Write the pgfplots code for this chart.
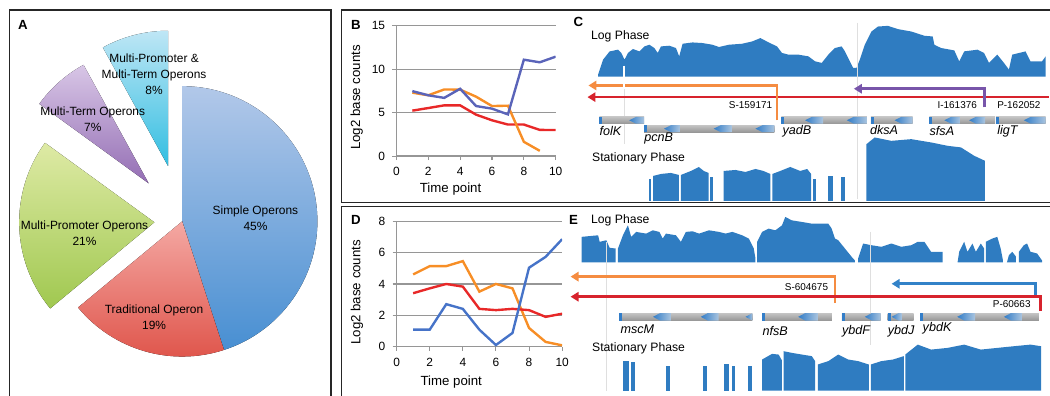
\documentclass[border=0pt]{standalone}
\usepackage{fontspec}
\setmainfont{Liberation Sans}
\usepackage{pgfplots}
\pgfplotsset{compat=1.18}
\usetikzlibrary{arrows.meta}
\definecolor{covblue}{RGB}{47,124,193}
\definecolor{chevblue}{RGB}{50,125,200}
\definecolor{geneT}{RGB}{195,195,195}
\definecolor{geneM}{RGB}{235,235,235}
\definecolor{geneB}{RGB}{150,150,150}
\definecolor{gridgray}{RGB}{150,150,150}
\definecolor{lnblueB}{RGB}{90,100,185}
\definecolor{lnblueD}{RGB}{70,115,200}
\definecolor{lnorange}{RGB}{247,142,38}
\definecolor{lnred}{RGB}{232,40,40}
\definecolor{arOrange}{RGB}{245,140,65}
\definecolor{arRed}{RGB}{215,35,45}
\definecolor{arPurple}{RGB}{120,85,170}
\definecolor{arBlue}{RGB}{50,130,200}
\definecolor{pbT}{RGB}{178,200,233}\definecolor{pbB}{RGB}{72,143,210}
\definecolor{prT}{RGB}{244,168,163}\definecolor{prB}{RGB}{222,80,70}
\definecolor{pgT}{RGB}{222,234,165}\definecolor{pgB}{RGB}{160,200,80}
\definecolor{ppT}{RGB}{216,198,230}\definecolor{ppB}{RGB}{148,110,180}
\definecolor{pcT}{RGB}{190,230,245}\definecolor{pcB}{RGB}{50,190,225}
\newcommand{\gene}[4]{%
  \addplot[draw=none, top color=geneT, middle color=geneM, bottom color=geneB] coordinates {(#1,#3) (#2,#3) (#2,#4) (#1,#4)} -- cycle;
  \pgfmathsetmacro\geneC{#1+3}%
  \addplot[draw=none, fill=chevblue] coordinates {(#1,#3) (\geneC,#3) (\geneC,#4) (#1,#4)} -- cycle;}
\newcommand{\chev}[4]{%
  \pgfmathsetmacro\chevM{(#2+#3)/2}\pgfmathsetmacro\chevB{#1+7}%
  \addplot[draw=none, left color=chevblue, right color=chevblue!35!geneM] coordinates {(#1,\chevM) (\chevB,#2) (#4,#2) (#4,#3) (\chevB,#3)} -- cycle;}
\begin{document}
\begin{tikzpicture}
\begin{scope}[x=0.75pt,y=0.75pt]
\useasboundingbox (0,0) rectangle (1050,398);
% frames
\draw[line width=1pt, black!85] (9.3,-5) -- (9.3,388) -- (333,388) -- (333,-5);
\draw[line width=1pt, black!85] (1056,388) -- (343.5,388) -- (343.5,194) -- (1056,194);
\draw[line width=1pt, black!85] (1056,190) -- (343.5,190) -- (343.5,-5);
% pie
\def\R{102pt}
\fill[top color=pbT, bottom color=pbB] (183.3,175.3) -- ++(90:\R) arc[start angle=90,end angle=-72,radius=\R] -- cycle;
\fill[top color=prT, bottom color=prB] (183.3,175.3) -- ++(-72:\R) arc[start angle=-72,end angle=-140.4,radius=\R] -- cycle;
\fill[top color=pgT, bottom color=pgB] ([shift={(-21pt,-0.7pt)}]183.3,175.3) -- ++(-140.4:\R) arc[start angle=-140.4,end angle=-216,radius=\R] -- cycle;
\fill[top color=ppT, bottom color=ppB] ([shift={(-25.3pt,28.7pt)}]183.3,175.3) -- ++(144:\R) arc[start angle=144,end angle=118.8,radius=\R] -- cycle;
\fill[top color=pcT, bottom color=pcB] ([shift={(-10.7pt,41.8pt)}]183.3,175.3) -- ++(118.8:\R) arc[start angle=118.8,end angle=90,radius=\R] -- cycle;
\begin{scope}[font=\fontsize{9}{12}\selectfont]
\node[align=center] at (257,178) {Simple Operons\\45\%};
\node[align=center] at (155,79) {Traditional Operon\\19\%};
\node[align=center] at (85,163.3) {Multi-Promoter Operons\\21\%};
\node[align=center] at (93.3,278.3) {Multi-Term Operons\\7\%};
\node[align=center] at (155,323) {Multi-Promoter \&\\Multi-Term Operons\\8\%};
\end{scope}
\node[font=\fontsize{10}{12}\selectfont\bfseries] at (23,373) {A};
\end{scope}
% ===== canvas axis for C and E tracks =====
\begin{axis}[at={(0pt,0pt)}, anchor=south west, width=787.5pt, height=298.5pt, scale only axis,
  xmin=0, xmax=1050, ymin=0, ymax=398, y dir=reverse, hide axis, clip=false]
% --- C log phase coverage
\addplot[draw=none, fill=covblue] coordinates {(601.7,77) (601.7,75) (606.7,60) (613.3,51.7) (621.7,50) (625,53.3) (628.3,60) (631.7,53.3) (636.7,49.3) (643.3,51.7) (648.3,46.7) (653.3,45) (658.3,48.3) (661.7,53.3) (665,46.7) (673.3,46) (680,48.3) (683.3,56.7) (686.7,44) (696.7,42.7) (706.7,43.3) (716.7,45) (723.3,47.3) (733.3,45) (746.7,44) (756.7,41.7) (765,38.3) (773.3,42.7) (781.7,46.7) (786.7,53.3) (793.3,55) (803.3,55) (813.3,56.7) (820,61.7) (826.7,63.3) (833.3,55) (840,48.3) (846.7,46.7) (850,51.7) (855,61.7) (858.3,68.3) (861.7,68.3) (865,60) (870,45) (876.7,31.7) (883.3,26.7) (893.3,26) (903.3,29.3) (916.7,31.7) (930,36) (938.3,36.7) (940,45) (946.7,48.3) (960,50.7) (965,61.7) (970,51.7) (983.3,50) (990,53.3) (995,63.3) (1003.3,55) (1010,63.3) (1015,70) (1018.3,55) (1031.7,51.7) (1036.7,61.7) (1048.3,61.7) (1052,56.7) (1052,77)} -- cycle;
% --- C stationary coverage
\addplot[draw=none, fill=covblue] coordinates {(653,202) (653,180) (655,180) (655,202)} -- cycle;
\addplot[draw=none, fill=covblue] coordinates {(657,202) (657,177) (665,175) (675,174) (683,176) (683,202)} -- cycle;
\addplot[draw=none, fill=covblue] coordinates {(685,202) (685,176) (695,172) (703,168) (708,172) (713,174) (713,202)} -- cycle;
\addplot[draw=none, fill=covblue] coordinates {(714,202) (714,178) (717,178) (717,202)} -- cycle;
\addplot[draw=none, fill=covblue] coordinates {(728,202) (728,172) (740,171) (750,173) (760,170) (768,172) (775,175) (775,202)} -- cycle;
\addplot[draw=none, fill=covblue] coordinates {(777,202) (777,175) (785,172) (795,168) (805,172) (812,170) (816,175) (816,202)} -- cycle;
\addplot[draw=none, fill=covblue] coordinates {(818,202) (818,180) (821,180) (821,202)} -- cycle;
\addplot[draw=none, fill=covblue] coordinates {(833,202) (833,177) (838,177) (838,202)} -- cycle;
\addplot[draw=none, fill=covblue] coordinates {(846,202) (846,178) (850,178) (850,202)} -- cycle;
\addplot[draw=none, fill=covblue] coordinates {(871.7,202) (871.7,145) (880,138.3) (896.7,141.7) (916.7,140) (936.7,143.3) (953.3,146.7) (966.7,148.3) (980,156.7) (990.7,161.7) (990.7,202)} -- cycle;
% --- C guide lines
\addplot[white, line width=2pt] coordinates {(627.7,66) (627.7,90)};
\addplot[gray!25, line width=0.6pt] coordinates {(627.7,90) (627.7,145)};
\addplot[gray!25, line width=0.6pt] coordinates {(862.7,23) (862.7,200)};
% --- C arrows
\addplot[arRed, line width=2pt, -{Triangle[length=6pt,width=7pt]}] coordinates {(1055,97.7) (591,97.7)};
\addplot[arOrange, line width=2pt, -{Triangle[length=6pt,width=7pt]}] coordinates {(781.7,121) (781.7,86) (592,86)};
\addplot[white, line width=2pt] coordinates {(627.7,83) (627.7,89)};
\addplot[arPurple, line width=2pt, -{Triangle[length=6pt,width=7pt]}] coordinates {(990.7,108) (990.7,89.3) (859,89.3)};
% --- C genes
\gene{603}{648}{117.5}{124.5}
\chev{633}{117.5}{124.5}{648}
\gene{648}{779}{126}{133}
\chev{668}{126}{133}{684}
\chev{718}{126}{133}{736}
\chev{760}{126}{133}{779}
\gene{786}{872}{117.5}{124.5}
\chev{810}{117.5}{124.5}{828}
\chev{852}{117.5}{124.5}{872}
\gene{876}{918}{117.5}{124.5}
\chev{900}{117.5}{124.5}{918}
\gene{935}{1001}{117.5}{124.5}
\chev{950}{117.5}{124.5}{966}
\chev{975}{117.5}{124.5}{991}
\gene{1002}{1052}{117.5}{124.5}
\chev{1030}{117.5}{124.5}{1052}
% --- C texts
\node[anchor=west, font=\fontsize{9.2}{11}\selectfont] at (590,37) {Log Phase};
\node[anchor=west, font=\fontsize{9.2}{11}\selectfont] at (591,159) {Stationary Phase};
\node[anchor=east, font=\fontsize{7.5}{9}\selectfont, inner sep=0pt] at (777,106) {S-159171};
\node[anchor=east, font=\fontsize{7.5}{9}\selectfont, inner sep=0pt] at (983,106) {I-161376};
\node[anchor=west, font=\fontsize{7.5}{9}\selectfont, inner sep=0pt] at (1003,106) {P-162052};
\begin{scope}[font=\fontsize{9.5}{11}\itshape, inner sep=0pt]
\node[anchor=west] at (603,132) {folK};
\node[anchor=west] at (648,139.5) {pcnB};
\node[anchor=west] at (787,132) {yadB};
\node[anchor=west] at (875,131) {dksA};
\node[anchor=west] at (935,132) {sfsA};
\node[anchor=west] at (1003,132) {ligT};
\end{scope}
\node[font=\fontsize{10}{12}\selectfont\bfseries] at (582,22) {C};
% --- E log coverage
\addplot[draw=none, fill=covblue] coordinates {(585,264) (585,238.3) (601.7,236.7) (603.3,243.3) (610,241.7) (613.3,249.3) (619.3,250) (619.3,264)} -- cycle;
\addplot[draw=none, fill=covblue] coordinates {(621.7,264) (621.7,250) (626.7,236.7) (631.7,226.7) (635,238.3) (640,233.3) (650,235) (656.7,231.7) (663.3,233.3) (666.7,240) (670,235) (680,236.7) (685,243.3) (690,233.3) (696.7,232.7) (703.3,235) (713.3,231.7) (723.3,233.3) (730,235) (736.7,233.3) (746.7,236.7) (753.3,240) (758.3,250) (760,260) (760,264)} -- cycle;
\addplot[draw=none, fill=covblue] coordinates {(761.7,264) (761.7,243.3) (766.7,233.3) (773.3,230) (780,231.7) (786.7,226.7) (790,218.3) (796.7,221.7) (806.7,223.3) (816.7,225) (833.3,225) (836.7,230) (840,240) (843.3,241.7) (850,250) (856.7,258.3) (860,262) (860,264)} -- cycle;
\addplot[draw=none, fill=covblue] coordinates {(863.3,264) (863.3,260) (868.3,245) (876.7,246.7) (886.7,248.3) (896.7,245) (906.7,248.3) (916.7,246.7) (923.3,243.3) (930,243.3) (936.7,253.3) (948.3,253.3) (948.3,264)} -- cycle;
\addplot[draw=none, fill=covblue] coordinates {(963.3,264) (965,253.3) (970,243.3) (973.3,253.3) (978.3,245) (981.7,253.3) (986.7,245) (990,250) (990,264)} -- cycle;
\addplot[draw=none, fill=covblue] coordinates {(991.7,264) (991.7,243.3) (998.3,240) (1003.3,238.3) (1006.7,250) (1009,262) (1009,264)} -- cycle;
\addplot[draw=none, fill=covblue] coordinates {(1013,264) (1015,256.7) (1018.3,253.3) (1022,258) (1022,264)} -- cycle;
\addplot[draw=none, fill=covblue] coordinates {(1025,264) (1025,253.3) (1030,246.7) (1033.3,245) (1036.7,253.3) (1043.3,255) (1048.3,262) (1048.3,264)} -- cycle;
% --- E stationary coverage
\addplot[draw=none, fill=covblue] coordinates {(627,393) (627,363.3) (633,363.3) (633,393)} -- cycle;
\addplot[draw=none, fill=covblue] coordinates {(635,393) (635,364) (639,364) (639,393)} -- cycle;
\addplot[draw=none, fill=covblue] coordinates {(670,393) (670,368.3) (674,368.3) (674,393)} -- cycle;
\addplot[draw=none, fill=covblue] coordinates {(707,393) (707,368.3) (711,368.3) (711,393)} -- cycle;
\addplot[draw=none, fill=covblue] coordinates {(728,393) (728,366.7) (733,366.7) (733,393)} -- cycle;
\addplot[draw=none, fill=covblue] coordinates {(736,393) (736,368.3) (739,368.3) (739,393)} -- cycle;
\addplot[draw=none, fill=covblue] coordinates {(753,393) (753,368.3) (757,368.3) (757,393)} -- cycle;
\addplot[draw=none, fill=covblue] coordinates {(766.7,393) (766.7,361.7) (776.7,356) (783.3,356.7) (786.7,362.7) (786.7,393)} -- cycle;
\addplot[draw=none, fill=covblue] coordinates {(788.3,393) (788.3,353.3) (796.7,355) (806.7,356.7) (816.7,358.3) (820,363.3) (820,393)} -- cycle;
\addplot[draw=none, fill=covblue] coordinates {(822.7,393) (822.7,366.7) (833.3,363.3) (843.3,356.7) (853.3,361.7) (863.3,363.3) (874,366.7) (874,393)} -- cycle;
\addplot[draw=none, fill=covblue] coordinates {(876,393) (876,366.7) (886.7,363.3) (898.3,361.7) (909.3,358.3) (909.3,393)} -- cycle;
\addplot[draw=none, fill=covblue] coordinates {(910.7,393) (910.7,356.7) (923.3,346.7) (936.7,351.7) (953.3,350) (970,346.7) (986.7,351.7) (1003.3,350) (1020,348.3) (1036.7,346.7) (1047.3,348.3) (1047.3,393)} -- cycle;
% --- E guide lines
\addplot[gray!25, line width=0.6pt] coordinates {(610,243) (610,393)};
\addplot[gray!25, line width=0.6pt] coordinates {(876,233) (876,347)};
% --- E arrows
\addplot[arOrange, line width=2pt, -{Triangle[length=6pt,width=7pt]}] coordinates {(840,305) (840,278.3) (574,278.3)};
\addplot[arBlue, line width=2pt, -{Triangle[length=6pt,width=7pt]}] coordinates {(1042,297) (1042,285.5) (897,285.5)};
\addplot[arRed, line width=2pt, -{Triangle[length=6pt,width=7pt]}] coordinates {(1047,313) (1047,298.5) (574,298.5)};
% --- E genes
\gene{623}{757}{315}{322.5}
\chev{657}{315}{322.5}{675}
\chev{705}{315}{322.5}{723}
\chev{750}{315}{322.5}{757}
\gene{767}{837}{315}{322.5}
\chev{803}{315}{322.5}{823}
\gene{847}{886}{315}{322.5}
\chev{870}{315}{322.5}{886}
\gene{893}{919}{315}{322.5}
\chev{897}{315}{322.5}{907}
\gene{926}{1045}{315}{322.5}
\chev{963}{315}{322.5}{981}
\chev{1010}{315}{322.5}{1028}
% --- E texts
\node[anchor=west, font=\fontsize{9.2}{11}\selectfont] at (590,221.7) {Log Phase};
\node[anchor=west, font=\fontsize{9.2}{11}\selectfont] at (591,350.7) {Stationary Phase};
\node[anchor=east, font=\fontsize{7.5}{9}\selectfont, inner sep=0pt] at (833.3,289.3) {S-604675};
\node[anchor=east, font=\fontsize{7.5}{9}\selectfont, inner sep=0pt] at (1037,305.5) {P-60663};
\begin{scope}[font=\fontsize{9.5}{11}\itshape, inner sep=0pt]
\node[anchor=west] at (624,331.7) {mscM};
\node[anchor=west] at (767,333) {nfsB};
\node[anchor=west] at (847,333) {ybdF};
\node[anchor=west] at (893,333) {ybdJ};
\node[anchor=west] at (928,330) {ybdK};
\end{scope}
\node[font=\fontsize{10}{12}\selectfont\bfseries] at (577,221) {E};
\node[font=\fontsize{10}{12}\selectfont\bfseries] at (358,25) {B};
\node[font=\fontsize{10}{12}\selectfont\bfseries] at (358,221) {D};
\end{axis}
% ===== panel B =====
\pgfplotsset{lineax/.style={scale only axis, xmin=0, xmax=10, ymin=0,
  axis x line*=bottom, axis y line*=left,
  axis line style={draw=gridgray, line width=1pt, -},
  xtick={0,2,4,6,8,10}, ymajorgrids, major grid style={gridgray, line width=1pt},
  tick align=outside, major tick length=3pt, tick style={gridgray, line width=0.8pt},
  /pgf/number format/assume math mode=true,
  tick label style={font=\fontsize{9}{10}\selectfont},
  label style={font=\fontsize{10}{12}\selectfont},
  yticklabel style={xshift=-2pt}, xticklabel style={yshift=-2pt},
  clip=true}}
\begin{axis}[lineax, at={(299.1pt,180.75pt)}, anchor=south west, width=120.2pt, height=98.25pt,
  ymax=15, ytick={0,5,10,15},
  xlabel={Time point}, ylabel={Log2 base counts},
  xlabel style={at={(axis description cs:0.34,-0.252)}, anchor=center},
  ylabel style={at={(axis description cs:-0.25,0.45)}, anchor=center}]
\addplot[lnred, line width=1.8pt] coordinates {(1,5.23) (2,5.53) (3,5.84) (4,5.84) (5,4.77) (6,4.12) (7,3.63) (8,3.63) (9,3.01) (10,3.0)};
\addplot[lnorange, line width=1.8pt] coordinates {(1,7.3) (2,7.0) (3,7.67) (4,7.65) (5,6.84) (6,5.76) (7,5.8) (8,1.64) (9,0.6)};
\addplot[lnblueB, line width=1.8pt] coordinates {(1,7.48) (2,7.0) (3,6.7) (4,7.75) (5,5.76) (6,5.46) (7,4.8) (8,11.1) (9,10.8) (10,11.45)};
\end{axis}
% ===== panel D =====
\begin{axis}[lineax, at={(299.25pt,36.98pt)}, anchor=south west, width=124.9pt, height=94.5pt,
  ymax=8, ytick={0,2,4,6,8},
  xlabel={Time point}, ylabel={Log2 base counts},
  xlabel style={at={(axis description cs:0.33,-0.286)}, anchor=center},
  ylabel style={at={(axis description cs:-0.24,0.434)}, anchor=center}]
\addplot[lnorange, line width=1.8pt] coordinates {(1,4.61) (2,5.14) (3,5.14) (4,5.46) (5,3.51) (6,4.0) (7,3.72) (8,1.19) (9,0.3) (10,0.08)};
\addplot[lnred, line width=1.8pt] coordinates {(1,3.41) (2,3.72) (3,4.0) (4,3.83) (5,2.41) (6,2.33) (7,2.41) (8,2.33) (9,1.9) (10,2.1)};
\addplot[lnblueD, line width=1.8pt] coordinates {(1,1.08) (2,1.08) (3,2.71) (4,2.41) (5,1.08) (6,0.1) (7,0.87) (8,5.04) (9,5.73) (10,6.86)};
\end{axis}
\end{tikzpicture}
\end{document}
